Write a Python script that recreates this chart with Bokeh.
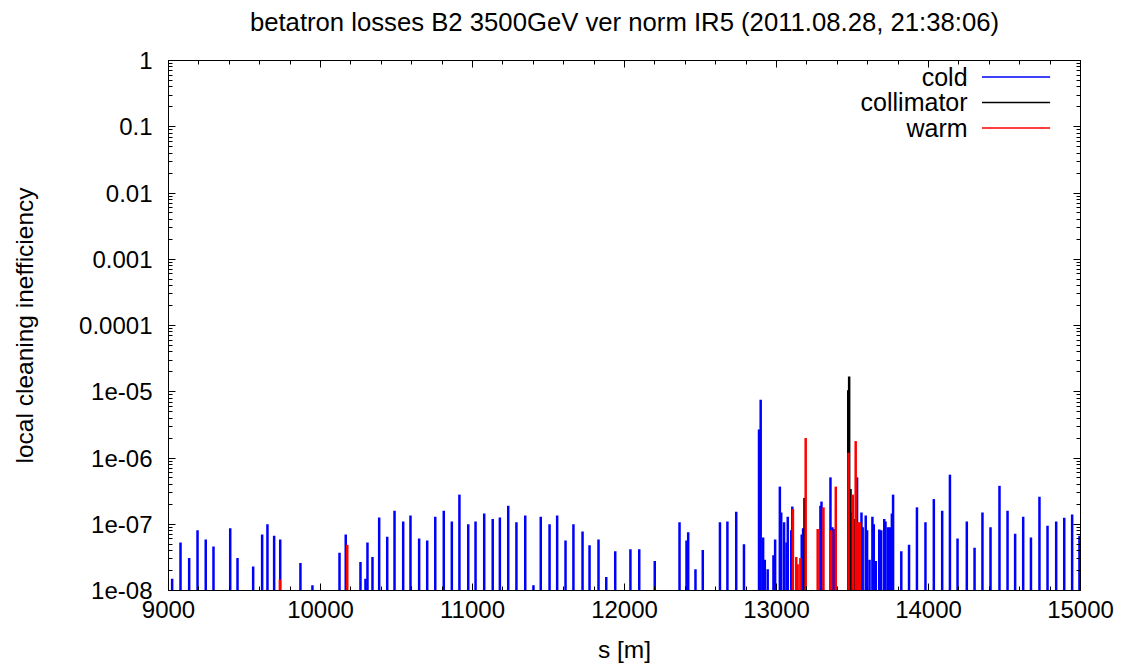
from bokeh.plotting import figure
from bokeh.models import (FixedTicker, LinearAxis, LogAxis, CustomJSTickFormatter,
                          Label, Arrow)
from bokeh.embed import file_html
from bokeh.resources import INLINE

# ---- texts -----------------------------------------------------------------
TITLE = "betatron losses B2 3500GeV ver norm IR5 (2011.08.28, 21:38:06)"
X_LABEL = "s [m]"
Y_LABEL = "local cleaning inefficiency"

# ---- ticks -----------------------------------------------------------------
x_ticks = [9000, 10000, 11000, 12000, 13000, 14000, 15000]
x_tick_labels = ["9000", "10000", "11000", "12000", "13000", "14000", "15000"]
y_ticks = [1, 0.1, 0.01, 0.001, 0.0001, 1e-05, 1e-06, 1e-07, 1e-08]
y_tick_labels = ["1", "0.1", "0.01", "0.001", "0.0001", "1e-05", "1e-06", "1e-07", "1e-08"]

# ---- loss maps (position along the ring [m], local cleaning inefficiency) --
cold_s = [9024, 9079, 9136, 9191, 9245, 9296, 9406, 9454, 9557, 9616,
          9651, 9695, 9735, 9868, 9947, 10125, 10166, 10263, 10296, 10309,
          10342, 10386, 10439, 10487, 10544, 10592, 10649, 10702, 10755, 10811,
          10864, 10914, 10972, 11020, 11077, 11133, 11180, 11235, 11289, 11347,
          11401, 11449, 11507, 11557, 11612, 11664, 11724, 11770, 11829, 11880,
          11939, 12039, 12097, 12199, 12362, 12408, 12419, 12467, 12515, 12628,
          12677, 12735, 12786, 12885, 12896, 12912, 12923, 12942, 12980, 12991,
          13022, 13031, 13050, 13066, 13074, 13097, 13104, 13166, 13175, 13289,
          13296, 13355, 13368, 13381, 13495, 13530, 13559, 13567, 13587, 13596,
          13612, 13631, 13640, 13653, 13676, 13689, 13709, 13717, 13733, 13746,
          13759, 13767, 13821, 13872, 13924, 13980, 14035, 14090, 14141, 14191,
          14252, 14303, 14355, 14408, 14467, 14520, 14570, 14623, 14674, 14730,
          14783, 14840, 14893, 14945, 14993]
cold_loss = [1.5e-8, 5.3e-8, 3.1e-8, 8.1e-8, 5.9e-8, 4.6e-8, 8.7e-8, 3.1e-8, 2.3e-8, 7.0e-8,
             1.0e-7, 6.7e-8, 5.9e-8, 2.6e-8, 1.2e-8, 3.7e-8, 7.0e-8, 2.7e-8, 1.5e-8, 5.3e-8,
             3.2e-8, 1.26e-7, 6.5e-8, 1.6e-7, 1.1e-7, 1.35e-7, 6.1e-8, 5.7e-8, 1.3e-7, 1.6e-7,
             1.1e-7, 2.8e-7, 1.0e-7, 1.1e-7, 1.45e-7, 1.2e-7, 1.26e-7, 1.9e-7, 1.07e-7, 1.35e-7,
             1.2e-8, 1.3e-7, 1.0e-7, 1.35e-7, 5.7e-8, 1.0e-7, 7.8e-8, 4.8e-8, 5.9e-8, 1.6e-8,
             3.9e-8, 4.2e-8, 4.2e-8, 2.8e-8, 1.07e-7, 5.7e-8, 7.6e-8, 2.1e-8, 4.1e-8, 1.07e-7,
             1.1e-7, 1.55e-7, 5.0e-8, 2.7e-6, 7.6e-6, 6.3e-8, 2.9e-8, 2.1e-8, 3.4e-8, 5.9e-8,
             3.7e-7, 1.5e-7, 1.07e-7, 5.3e-8, 1.3e-7, 8.1e-8, 1.85e-7, 7.0e-8, 8.7e-8, 1.9e-7,
             2.2e-7, 5.1e-7, 9.0e-8, 8.5e-8, 1.5e-7, 5.1e-7, 1.5e-7, 9.0e-8, 1.35e-7, 8.1e-8,
             2.9e-8, 1.3e-7, 1.0e-7, 2.8e-8, 8.3e-8, 8.1e-8, 1.2e-7, 1.1e-7, 9.0e-8, 9.0e-8,
             1.45e-7, 2.8e-7, 3.9e-8, 4.9e-8, 1.8e-7, 1.07e-7, 2.4e-7, 1.6e-7, 5.6e-7, 6.1e-8,
             1.1e-7, 4.4e-8, 1.5e-7, 9.0e-8, 3.8e-7, 1.6e-7, 7.2e-8, 1.3e-7, 6.3e-8, 2.6e-7,
             9.5e-8, 1.1e-7, 1.25e-7, 1.4e-7, 6.7e-8]

collimator_s = [13184, 13472, 13478, 13487, 13513]
collimator_loss = [2.5e-7, 1.05e-5, 1.7e-5, 3.4e-7, 1.2e-7]

warm_s = [9733, 10176, 13108, 13130, 13139, 13157, 13192, 13271, 13309, 13360,
          13390, 13474, 13502, 13521, 13537, 13548]
warm_loss = [1.47e-8, 4.9e-8, 1.7e-7, 3.2e-8, 2.5e-8, 3.1e-8, 2.0e-6, 8.5e-8, 1.8e-7, 8.1e-8,
             3.7e-7, 1.2e-6, 2.8e-7, 1.8e-6, 1.07e-7, 1.07e-7]

series_names = ["cold", "collimator", "warm"]
series_colors = ["#0000ff", "#000000", "#ff0000"]

FONT = "Liberation Sans"
FLOOR = 1e-9  # spikes start below the visible range and are clipped by the frame

p = figure(width=1131, height=670, x_range=(9000, 15000), y_range=(1e-8, 1),
           y_axis_type="log", output_backend="svg", toolbar_location=None,
           min_border_left=168, min_border_right=51, min_border_top=60,
           min_border_bottom=80)
p.background_fill_color = "white"
p.border_fill_color = "white"
p.outline_line_color = "black"
p.outline_line_width = 1
p.grid.visible = False

x_ticker = FixedTicker(ticks=x_ticks, minor_ticks=list(range(9000, 15001, 200)))
y_ticker = FixedTicker(ticks=y_ticks,
                       minor_ticks=[m * 10.0 ** e for e in range(-8, 0) for m in range(2, 10)])
y_formatter = CustomJSTickFormatter(args=dict(labels=y_tick_labels),
                                    code="return labels[Math.round(-Math.log10(tick))];")
blank_formatter = CustomJSTickFormatter(code="return '';")


def style_axis(ax):
    ax.major_tick_in = 7
    ax.major_tick_out = 0
    ax.minor_tick_in = 4
    ax.minor_tick_out = 0
    ax.axis_line_color = "black"
    ax.major_tick_line_color = "black"
    ax.minor_tick_line_color = "black"
    ax.major_label_text_font = FONT
    ax.major_label_text_font_size = "24px"
    ax.major_label_text_color = "black"
    ax.axis_label_text_font = FONT
    ax.axis_label_text_font_size = "24.5px"
    ax.axis_label_text_font_style = "normal"
    ax.axis_label_text_color = "black"


xa = p.xaxis[0]
xa.ticker = x_ticker
xa.major_label_overrides = dict(zip(x_ticks, x_tick_labels))
xa.axis_label = X_LABEL
style_axis(xa)
xa.major_label_standoff = 10
xa.axis_label_standoff = 15

ya = p.yaxis[0]
ya.ticker = y_ticker
ya.formatter = y_formatter
ya.axis_label = Y_LABEL
style_axis(ya)
ya.major_label_standoff = 16
ya.axis_label_standoff = 38

# unlabelled tick row on the top edge; its axis label carries the heading
top = LinearAxis(ticker=x_ticker, formatter=blank_formatter, axis_label=TITLE)
style_axis(top)
top.major_label_standoff = 0
top.major_label_text_font_size = "2px"
top.axis_label_text_font_size = "25.7px"
top.axis_label_standoff = 25
p.add_layout(top, "above")

# unlabelled tick row on the right edge
right = LogAxis(ticker=y_ticker, formatter=blank_formatter)
style_axis(right)
right.major_label_standoff = 0
right.major_label_text_font_size = "2px"
p.add_layout(right, "right")

# impulses drawn in legend order, warm on top
for s, loss, color in [(cold_s, cold_loss, series_colors[0]),
                       (collimator_s, collimator_loss, series_colors[1]),
                       (warm_s, warm_loss, series_colors[2])]:
    p.segment(x0=s, y0=[FLOOR] * len(s), x1=s, y1=loss, line_color=color, line_width=2.5)

# key in the upper right corner: right-aligned names followed by a line sample
key_text_x = 14257
key_line_x = (14352, 14800)
key_rows_y = [0.5636, 0.2323, 0.0958]
for name, color, ky in zip(series_names, series_colors, key_rows_y):
    p.add_layout(Label(x=key_text_x, y=ky, text=name, text_align="right",
                       text_baseline="middle", text_font=FONT, text_font_size="25px",
                       text_color="black"))
    p.add_layout(Arrow(end=None, x_start=key_line_x[0], y_start=ky, x_end=key_line_x[1],
                       y_end=ky, line_color=color, line_width=1.5))

open("out.html", "w").write(file_html(p, INLINE))
